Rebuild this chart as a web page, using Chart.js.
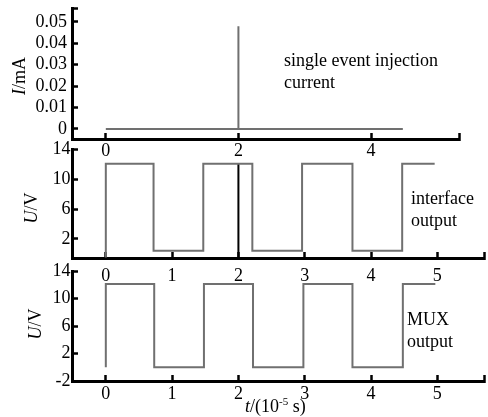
<!DOCTYPE html>
<html>
<head>
<meta charset="utf-8">
<script src="https://cdn.jsdelivr.net/npm/chart.js@4"></script>
<style>
  html, body { margin: 0; padding: 0; background: #fff; }
  #wrap { position: relative; width: 488px; height: 417px; overflow: hidden; font-family: 'Liberation Serif', 'Times New Roman', serif; color: #000; }
  canvas { position: absolute; left: 0; top: 0; pointer-events: none; }
  .txt { position: absolute; font-size: 18px; line-height: 22px; white-space: nowrap; }
  .rot { position: absolute; font-size: 18px; line-height: 18px; white-space: nowrap; transform: translate(-50%, -50%) rotate(-90deg); }
  sup { font-size: 11px; vertical-align: 7px; line-height: 0; }
</style>
</head>
<body>
<div id="wrap">
  <canvas id="c1" width="488" height="417"></canvas>
  <canvas id="c2" width="488" height="417"></canvas>
  <canvas id="c3" width="488" height="417"></canvas>
  <div class="rot" style="left:19px; top:76px;"><i>I</i>/mA</div>
  <div class="rot" style="left:31px; top:208px;"><i>U</i>/V</div>
  <div class="rot" style="left:35px; top:324px;"><i>U</i>/V</div>
  <div class="txt" style="left:284px; top:49px;">single event injection<br>current</div>
  <div class="txt" style="left:411px; top:187px;">interface<br>output</div>
  <div class="txt" style="left:407px; top:308px;">MUX<br>output</div>
  <div class="txt" style="left:245px; top:395px;"><i>t</i>/(10<sup>-5</sup> s)</div>
</div>
<script>
// ---- data ----
const currentT = [0, 2, 2, 2, 4.48];
const currentI = [0, 0, 0.048, 0, 0];

const ifaceT = [0, 0, 0.72, 0.72, 1.47, 1.47, 2.21, 2.21, 2.96, 2.96, 3.72, 3.72, 4.47, 4.47, 4.96];
const ifaceU = [-0.5, 12.1, 12.1, 0.4, 0.4, 12.1, 12.1, 0.4, 0.4, 12.1, 12.1, 0.4, 0.4, 12.1, 12.1];
const glitchT = [2, 2];
const glitchU = [12.1, -0.5];

const muxT = [0, 0, 0.73, 0.73, 1.48, 1.48, 2.22, 2.22, 2.98, 2.98, 3.72, 3.72, 4.48, 4.48, 4.97];
const muxU = [0, 12.1, 12.1, 0, 0, 12.1, 12.1, 0, 0, 12.1, 12.1, 0, 0, 12.1, 12.1];

// tick labels
const xTicksTop = ['0', '2', '4'];
const xTicksMid = ['0', '1', '2', '3', '4', '5'];
const xTicksBot = ['0', '1', '2', '3', '4', '5'];
const yTicksI = ['0', '0.01', '0.02', '0.03', '0.04', '0.05'];
const yTicksU1 = ['2', '6', '10', '14'];
const yTicksU2 = ['-2', '2', '6', '10', '14'];

// ---- helpers ----
Chart.defaults.font.family = "'Liberation Serif', 'Times New Roman', serif";
Chart.defaults.font.size = 18;
Chart.defaults.color = '#000';

const pts = (xs, ys) => xs.map((x, i) => ({ x: x, y: ys[i] }));
const LINE = '#707070';
const XH = 36; // x-axis box height

function axis(opts) {
  const labels = opts.labels;
  const vals = labels.map(Number);
  if (opts.endCap) vals.push(opts.max);
  return {
    type: 'linear',
    position: opts.pos,
    min: opts.min,
    max: opts.max,
    border: { display: true, color: '#000', width: 3 },
    grid: { drawOnChartArea: false, drawTicks: true, tickLength: -6, tickWidth: 2.5, tickColor: '#000', color: '#000' },
    ticks: {
      autoSkip: false,
      maxRotation: 0,
      padding: opts.pad,
      color: '#000',
      font: { size: 18 },
      callback: (v) => { const i = vals.indexOf(v); return (i >= 0 && i < labels.length) ? labels[i] : ''; }
    },
    afterBuildTicks: (s) => { s.ticks = vals.map(v => ({ value: v })); },
    afterFit: (s) => {
      if (opts.pos === 'left') s.width = opts.size; else s.height = opts.size;
      s.paddingTop = 0; s.paddingBottom = 0; s.paddingLeft = 0; s.paddingRight = 0;
      s.getPadding = () => ({ left: 0, top: 0, right: 0, bottom: 0 });
    }
  };
}

function makeChart(id, datasets, pad, xs, ys) {
  return new Chart(document.getElementById(id), {
    type: 'line',
    data: { datasets: datasets },
    options: {
      responsive: false,
      animation: false,
      devicePixelRatio: 1,
      layout: { autoPadding: false, padding: pad },
      plugins: { legend: { display: false }, tooltip: { enabled: false }, title: { display: false } },
      elements: { point: { radius: 0 }, line: { tension: 0 } },
      scales: { x: xs, y: ys }
    }
  });
}

const ds = (data, color, w) => ({ data: data, borderColor: color, borderWidth: w, pointRadius: 0, fill: false, tension: 0 });

// Panel 1: injection current
makeChart('c1',
  [ds(pts(currentT, currentI), LINE, 2)],
  { left: 0, top: 8, right: 29, bottom: 417 - 139 - XH },
  axis({ pos: 'bottom', min: -0.51, max: 5.327, labels: xTicksTop, endCap: true, pad: 7, size: XH }),
  axis({ pos: 'left', min: -0.00467, max: 0.0565, labels: yTicksI, endCap: true, pad: 11, size: 72 })
);

// Panel 2: interface output
makeChart('c2',
  [ds(pts(ifaceT, ifaceU), LINE, 2), ds(pts(glitchT, glitchU), '#000', 2)],
  { left: 0, top: 149, right: 4, bottom: 417 - 258 - XH },
  axis({ pos: 'bottom', min: -0.51, max: 5.704, labels: xTicksMid, endCap: true, pad: 13, size: XH }),
  axis({ pos: 'left', min: -0.56, max: 14.1, labels: yTicksU1, endCap: false, pad: 7.5, size: 72 })
);

// Panel 3: MUX output
makeChart('c3',
  [ds(pts(muxT, muxU), LINE, 2)],
  { left: 0, top: 271, right: 4, bottom: 417 - 381 - XH },
  axis({ pos: 'bottom', min: -0.51, max: 5.704, labels: xTicksBot, endCap: true, pad: 8, size: XH }),
  axis({ pos: 'left', min: -2, max: 14, labels: yTicksU2, endCap: false, pad: 7.5, size: 72 })
);
</script>
</body>
</html>
